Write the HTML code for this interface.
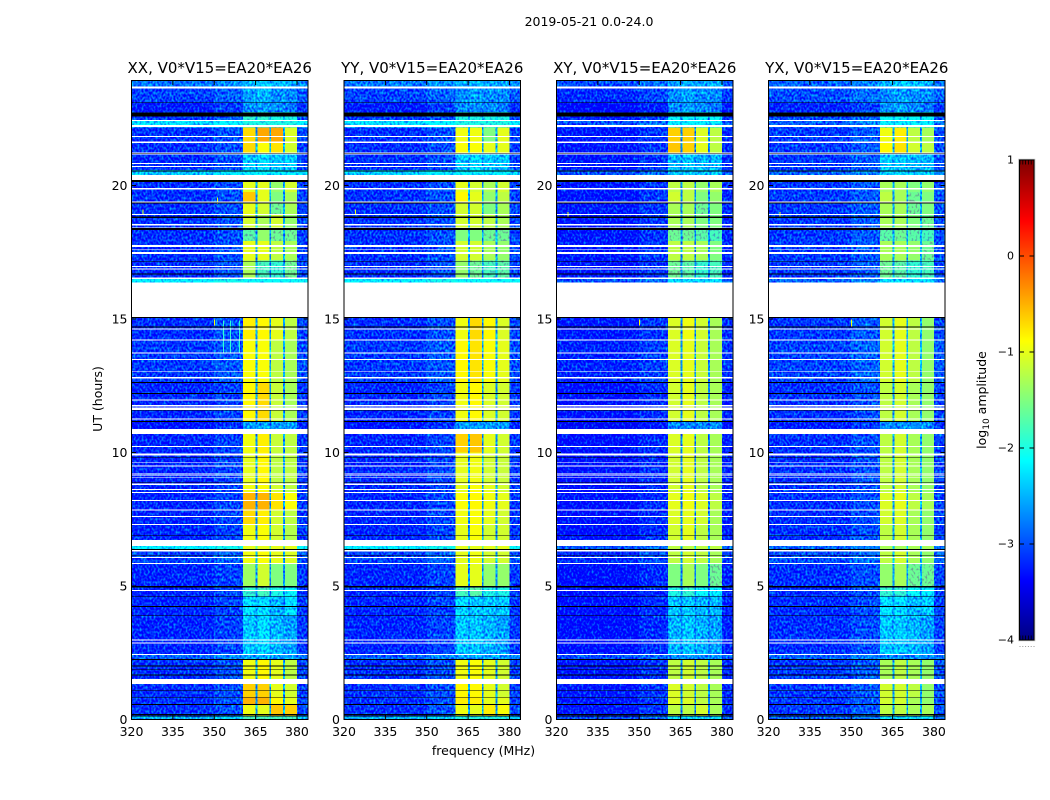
<!DOCTYPE html>
<html>
<head>
<meta charset="utf-8">
<title>2019-05-21 0.0-24.0</title>
<style>
html,body{margin:0;padding:0;background:#fff;width:1050px;height:800px;overflow:hidden}
svg{display:block}
text{font-family:"DejaVu Sans","Liberation Sans",sans-serif;fill:#000}
</style>
</head>
<body>
<svg id="chart" xmlns="http://www.w3.org/2000/svg" width="1050" height="800" viewBox="0 0 1050 800">
  <defs>
    <filter id="speckle" filterUnits="userSpaceOnUse" x="0" y="0" width="1050" height="800" color-interpolation-filters="sRGB">
      <feTurbulence type="fractalNoise" baseFrequency="0.5 0.38" numOctaves="1" seed="7" result="n"/>
      <feColorMatrix in="n" type="matrix" values="0 0 0 0 0.42  1.6 0 0 0 -0.38  0 0 0 0 0.42  0 0 0 0 1" result="nc"/>
      <feComposite in="SourceGraphic" in2="nc" operator="arithmetic" k1="0" k2="1" k3="1" k4="-0.42" result="mix"/>
      <feComposite in="mix" in2="SourceAlpha" operator="in"/>
    </filter>
  </defs>
  <text x="589" y="26" font-size="12.5" text-anchor="middle">2019-05-21 0.0-24.0</text>
  <text x="483.5" y="755" font-size="12.5" text-anchor="middle">frequency (MHz)</text>
  <text transform="translate(102 399) rotate(-90)" font-size="12.5" text-anchor="middle">UT (hours)</text>
  <text transform="translate(986 400) rotate(-90)" font-size="12.5" text-anchor="middle">log<tspan font-size="9" dy="3">10</tspan><tspan dy="-3"> amplitude</tspan></text>
  <g id="panels"></g>
  <g id="colorbar"></g>
</svg>
<script>
// ---- data (hours, MHz, log10 amplitude) ----
const panelTitles = ["XX, V0*V15=EA20*EA26","YY, V0*V15=EA20*EA26","XY, V0*V15=EA20*EA26","YX, V0*V15=EA20*EA26"];
const freqTicks = [320,335,350,365,380];
const hourTicks = [0,5,10,15,20];
const colorTicks = [1,0,-1,-2,-3,-4];
const blockStart = [0,0.12,0.54,0.82,1.33,1.52,2.23,2.42,3.88,4.6,5.0,5.82,6.39,6.73,7.28,7.85,8.48,8.85,10.0,10.88,11.14,12.64,14.2,15.04,16.36,16.49,17.2,17.92,18.33,18.9,19.34,19.76,20.2,20.4,20.58,21.18,21.62,22.18,22.42,22.75,23.1,23.65];
const blockEnd = 23.93;
const blockBg = [-2.5,-3.15,-3.15,-3.15,-3.15,-3.15,-2.9,-3.2,-3.2,-3.2,-3.2,-3.05,-2.2,-3.2,-3.2,-3.2,-3.2,-3.2,-3.2,-3.3,-3.2,-3.1,-3.15,-3.1,-2.2,-3.15,-3.15,-3.15,-3.15,-3.15,-3.15,-3.15,-3.1,-2.4,-3.15,-3.15,-3.15,-2.3,-3.1,-3.25,-3.05,-2.8];
const bandXX = [[-1.8,-1.8,-1.8,-1.8],[-0.95,-1,-0.6,-0.65],[-0.5,-0.5,-0.85,-1],[-0.65,-0.65,-1,-1.1],[-0.65,-0.65,-1,-1.1],[-0.95,-0.85,-1,-1.2],[-2.6,-2.6,-2.6,-2.6],[-2.4,-2.3,-2.5,-2.6],[-2.3,-2.3,-2.5,-2.3],[-1.9,-1.8,-2,-2.1],[-1.35,-1.1,-1.5,-1.5],[-0.95,-0.9,-1,-1.05],[-1,-1,-1,-1],[-0.95,-0.9,-1.1,-1.25],[-0.7,-0.8,-1.1,-1.2],[-0.5,-0.5,-0.75,-0.9],[-0.95,-0.9,-1.1,-1.2],[-1,-0.85,-1.2,-1.2],[-0.95,-0.8,-1.15,-1.2],[-2.6,-2.6,-2.6,-2.6],[-0.85,-0.7,-1.15,-1.3],[-0.9,-0.9,-1.2,-1.3],[-0.8,-0.85,-1,-1.2],[-2,-2,-2,-2],[-2.1,-2.1,-2.1,-2.1],[-1.3,-1.8,-1.9,-1.6],[-1,-1,-1.2,-1.3],[-1.7,-1.4,-1.6,-1.6],[-1.1,-1.3,-1.1,-1.4],[-1,-1.1,-1.6,-1.3],[-0.6,-1,-1.5,-1.3],[-1,-1,-1.4,-1.1],[-2,-2,-2,-2],[-2.2,-2.2,-2.2,-2.2],[-2.4,-2.3,-2.4,-2.4],[-0.7,-0.9,-0.75,-1.1],[-0.7,-0.45,-0.45,-1.05],[-2,-2,-2,-2],[-1.9,-1.9,-2,-2],[-2.7,-2.6,-2.7,-2.8],[-2.6,-2.5,-2.7,-2.7],[-2.5,-2.4,-2.5,-2.5]];
const bandYY = [[-2,-2,-2,-2],[-0.95,-1,-0.8,-0.9],[-0.8,-0.8,-1,-1],[-0.85,-0.85,-1,-1.1],[-0.85,-0.85,-1,-1.1],[-0.95,-0.9,-1,-1.1],[-2.6,-2.6,-2.6,-2.6],[-2.4,-2.4,-2.5,-2.6],[-2.3,-2.4,-2.4,-2.4],[-1.8,-1.7,-2,-2],[-1,-1,-1.4,-1.4],[-1,-0.95,-1.1,-1.1],[-1,-1,-1,-1],[-1,-0.9,-1.1,-1.1],[-0.95,-0.9,-1,-1.1],[-0.9,-0.85,-0.95,-1],[-1,-0.9,-1,-1.1],[-1,-0.95,-1.1,-1.15],[-0.65,-0.6,-1,-1.1],[-2.6,-2.6,-2.6,-2.6],[-0.95,-0.85,-1.05,-1.1],[-0.85,-0.75,-0.9,-1],[-0.95,-0.7,-0.85,-1.05],[-2,-2,-2,-2],[-2.1,-2.1,-2.1,-2.1],[-1.4,-1.6,-1.8,-1.7],[-1.1,-1.1,-1.3,-1.4],[-1.5,-1.5,-1.6,-1.6],[-1.1,-1.1,-1.2,-1.3],[-1.1,-1.1,-1.5,-1.3],[-0.85,-1,-1.4,-1.2],[-1,-1.1,-1.3,-1.1],[-2,-2,-2,-2],[-2.2,-2.2,-2.2,-2.2],[-2.4,-2.3,-2.4,-2.4],[-0.9,-0.9,-1,-1],[-0.95,-0.95,-1.5,-1],[-2,-2,-2,-2],[-2,-2,-2,-2],[-2.7,-2.7,-2.7,-2.8],[-2.7,-2.6,-2.7,-2.7],[-2.5,-2.5,-2.6,-2.6]];
const bandXY = [[-2.3,-2.3,-2.3,-2.3],[-1.2,-1.2,-1.1,-1.3],[-1.05,-1.05,-1.2,-1.3],[-1.05,-1.1,-1.2,-1.3],[-1.05,-1.1,-1.2,-1.3],[-1.2,-1.1,-1.2,-1.3],[-2.7,-2.7,-2.7,-2.7],[-2.5,-2.4,-2.5,-2.6],[-2.4,-2.4,-2.5,-2.5],[-2,-1.9,-2.1,-2.2],[-1.5,-1.3,-1.5,-1.6],[-1.2,-1.1,-1.2,-1.3],[-1.2,-1.2,-1.2,-1.2],[-1.1,-1,-1.2,-1.3],[-1.05,-1,-1.1,-1.3],[-1,-0.95,-1.05,-1.2],[-1.1,-1,-1.2,-1.3],[-1.1,-1,-1.2,-1.3],[-1.05,-1,-1.2,-1.3],[-2.7,-2.7,-2.7,-2.7],[-1.1,-1,-1.2,-1.3],[-1.05,-1,-1.15,-1.3],[-1.05,-0.95,-1.1,-1.3],[-2,-2,-2,-2],[-2.3,-2.3,-2.3,-2.3],[-1.6,-1.7,-1.9,-1.8],[-1.2,-1.2,-1.3,-1.5],[-1.6,-1.6,-1.7,-1.8],[-1.3,-1.3,-1.5,-1.5],[-1.3,-1.3,-1.6,-1.5],[-1.1,-1.2,-1.5,-1.4],[-1.2,-1.2,-1.4,-1.3],[-2,-2,-2,-2],[-2.4,-2.4,-2.4,-2.4],[-2.5,-2.4,-2.5,-2.5],[-0.6,-0.65,-1,-1.2],[-0.65,-0.65,-1.05,-1.2],[-2.2,-2.2,-2.2,-2.2],[-2.1,-2.1,-2.1,-2.1],[-2.7,-2.6,-2.7,-2.8],[-2.7,-2.6,-2.7,-2.7],[-2.6,-2.5,-2.6,-2.5]];
const bandYX = [[-2.3,-2.3,-2.3,-2.3],[-1.2,-1.2,-1.3,-1.3],[-1.1,-1.1,-1.3,-1.4],[-1.1,-1.1,-1.2,-1.4],[-1.1,-1.1,-1.2,-1.4],[-1.3,-1.2,-1.3,-1.4],[-2.7,-2.7,-2.7,-2.7],[-2.4,-2.4,-2.5,-2.6],[-2.3,-2.3,-2.5,-2.4],[-1.9,-1.9,-2.1,-2.2],[-1.4,-1.3,-1.6,-1.6],[-1.2,-1.1,-1.3,-1.4],[-1.3,-1.3,-1.3,-1.3],[-1.2,-1.1,-1.3,-1.4],[-1.1,-1.05,-1.3,-1.4],[-1.05,-1,-1.2,-1.3],[-1.2,-1.1,-1.3,-1.4],[-1.2,-1.1,-1.3,-1.4],[-1.2,-1.1,-1.3,-1.4],[-2.7,-2.7,-2.7,-2.7],[-1.2,-1.1,-1.3,-1.4],[-1.1,-1,-1.2,-1.4],[-1.1,-1,-1.2,-1.4],[-2,-2,-2,-2],[-2.3,-2.3,-2.3,-2.3],[-1.6,-1.7,-1.9,-1.8],[-1.3,-1.3,-1.4,-1.6],[-1.7,-1.6,-1.7,-1.8],[-1.3,-1.3,-1.5,-1.6],[-1.3,-1.3,-1.6,-1.5],[-1.2,-1.3,-1.6,-1.5],[-1.3,-1.3,-1.5,-1.4],[-2,-2,-2,-2],[-2.4,-2.4,-2.4,-2.4],[-2.4,-2.4,-2.5,-2.5],[-0.85,-0.75,-1.1,-1.2],[-0.95,-0.8,-1.2,-1.3],[-2.2,-2.2,-2.2,-2.2],[-2.1,-2.1,-2.1,-2.1],[-2.7,-2.6,-2.7,-2.8],[-2.7,-2.6,-2.7,-2.7],[-2.5,-2.4,-2.5,-2.5]];
const panelBands = [bandXX,bandYY,bandXY,bandYX];
const panelBgOffset = [0,0,-0.12,0.05];
const panelBgCap = [-1,-1,-3.0,-2.9];
// frequency columns: low background, rising edge, band1, gap, band2, gap, band3, gap, band4, high edge
const columnEdges = [320,350,360.4,365,365.6,370,370.6,375,375.6,380,384];
const columnRole = ["bg","edge","b0","gap","b1","gap","b2","gap","b3","bg2"];
const whiteFlags = [[1.33,1.52],[2.42,2.46],[2.85,2.89],[2.95,3.0],[4.81,4.85],[5.82,5.86],[6.05,6.09],[6.30,6.34],[6.5,6.72],[7.28,7.32],[7.58,7.62],[7.83,7.87],[8.18,8.22],[8.48,8.52],[8.6,8.63],[8.79,8.83],[9.06,9.09],[9.13,9.17],[9.21,9.24],[9.48,9.52],[9.6,9.63],[9.88,9.96],[10.21,10.24],[10.69,10.88],[11.24,11.28],[11.59,11.69],[11.73,11.77],[11.94,11.98],[12.78,12.82],[13.03,13.06],[13.46,13.5],[13.7,13.74],[14.2,14.24],[14.61,14.65],[15.03,16.36],[16.49,16.56],[16.86,16.9],[16.94,16.99],[17.43,17.51],[17.58,17.61],[17.69,17.78],[18.4,18.43],[18.51,18.56],[18.89,18.93],[19.37,19.41],[19.85,19.9],[20.2,20.4],[20.69,20.73],[20.8,20.85],[21.17,21.24],[21.6,21.64],[21.82,21.85],[22.2,22.27],[22.42,22.45],[23.63,23.7]];
const blackFlags = [[0.12,0.15],[0.17,0.21],[0.54,0.58],[0.82,0.85],[1.07,1.09],[1.64,1.69],[1.87,1.9],[1.99,2.03],[2.23,2.27],[3.88,3.9],[4.22,4.26],[4.6,4.63],[4.95,5.0],[6.15,6.17],[6.35,6.39],[6.87,6.9],[8.85,8.88],[9.82,9.84],[11.14,11.18],[11.55,11.58],[12.2,12.23],[12.61,12.64],[14.69,14.71],[15.03,15.07],[16.66,16.71],[17.15,17.18],[18.33,18.4],[18.79,18.83],[19.33,19.37],[20.13,20.2],[20.53,20.56],[21.18,21.2],[22.58,22.74],[23.09,23.11]];
// isolated interference: panel index, MHz, hour from, hour to, log10 amplitude
const spikes = [[0,353.2,13.7,14.95,-1.9],[0,355.8,13.7,14.95,-1.9],[0,359,13.7,14.95,-1.9],[0,350,14.75,14.98,-0.9],[2,350,14.75,14.98,-0.9],[3,350,14.7,14.98,-0.9],[0,351,19.3,19.55,-1],[0,324,18.9,19.1,-1],[1,324,18.9,19.1,-1],[2,324,18.8,19,-1],[3,324,18.8,19,-1]];

// ---- axis functions ----
const panelLefts = [131.5,344,556.5,768.5];
const panelWidth = 176.5;
function xScale(p,mhz){return panelLefts[p]+(mhz-320)/(384-320)*panelWidth;}
function yScale(h){return 719.5-h*26.7;}
function cbScale(v){return 640-(v+4)/5*480;}
function jet(v){
  const x=Math.min(1,Math.max(0,(v+4)/5));
  const c=t=>Math.round(255*Math.min(1,Math.max(0,1.5-Math.abs(4*x-t))));
  return "rgb("+c(3)+","+c(2)+","+c(1)+")";
}
const NS="http://www.w3.org/2000/svg";
function mk(tag,parent,attrs){
  const e=document.createElementNS(NS,tag);
  for(const k in attrs)e.setAttribute(k,attrs[k]);
  parent.appendChild(e);
  return e;
}
const root=document.getElementById("panels");
panelTitles.forEach((title,p)=>{
  const g=mk("g",root,{});
  
  
  const heat=mk("g",g,{filter:"url(#speckle)","shape-rendering":"crispEdges"});
  
  
  const solid=mk("g",g,{"shape-rendering":"crispEdges"});
  
  
  const band=panelBands[p];
  blockStart.forEach((h0,b)=>{
    const h1=b+1<blockStart.length?blockStart[b+1]:blockEnd;
    const bg=Math.min(blockBg[b]+panelBgOffset[p],panelBgCap[p]);
    columnRole.forEach((role,c)=>{
      let v=bg;
      if(role==="edge")v=bg+0.15;
      else if(role==="bg2")v=bg+0.1;
      else if(role==="gap")v=Math.max(bg,Math.min(bg+0.55,band[b][0]));
      else if(role[0]==="b"&&role!=="bg")v=band[b][+role[1]];
      const x0=xScale(p,columnEdges[c]),x1=xScale(p,columnEdges[c+1]);
      const cell=mk("rect",v>-1.6?solid:heat,{x:x0,y:yScale(h1),width:x1-x0,height:yScale(h0)-yScale(h1),fill:jet(v)});
      
      
    });
  });
  spikes.filter(s=>s[0]===p).forEach(s=>{
    const sp=mk("rect",g,{x:xScale(p,s[1]),y:yScale(s[3]),width:1,height:yScale(s[2])-yScale(s[3]),fill:jet(s[4]),"shape-rendering":"crispEdges"});
    
    
  });
  whiteFlags.forEach(f=>{
    const r=mk("rect",g,{x:xScale(p,320),y:yScale(f[1]),width:panelWidth,height:yScale(f[0])-yScale(f[1]),fill:"#fff","shape-rendering":"crispEdges"});
    
    
  });
  blackFlags.forEach(f=>{
    const r=mk("rect",g,{x:xScale(p,320),y:yScale(f[1]),width:panelWidth,height:yScale(f[0])-yScale(f[1]),fill:"#000","shape-rendering":"crispEdges"});
    
    
  });
  const frame=mk("rect",g,{x:xScale(p,320),y:80.5,width:panelWidth,height:639,fill:"none",stroke:"#000","stroke-width":1,"shape-rendering":"crispEdges"});
  
  
  freqTicks.forEach(f=>{
    const x=xScale(p,f);
    const t1=mk("line",g,{x1:x,x2:x,y1:719.5,y2:715,stroke:"#000","stroke-width":1});
    
    
    const t2=mk("line",g,{x1:x,x2:x,y1:80.5,y2:85,stroke:"#000","stroke-width":1});
    
    
    const lab=mk("text",g,{x:x,y:736,"font-size":12.5,"text-anchor":"middle"});
    lab.textContent=String(f);
    
    
  });
  hourTicks.forEach(h=>{
    const y=yScale(h);
    const l=xScale(p,320),r=l+panelWidth;
    const t1=mk("line",g,{x1:l,x2:l+4.5,y1:y,y2:y,stroke:"#000","stroke-width":1});
    
    
    const t2=mk("line",g,{x1:r,x2:r-4.5,y1:y,y2:y,stroke:"#000","stroke-width":1});
    
    
    const lab=mk("text",g,{x:l-4,y:y+4.5,"font-size":12.5,"text-anchor":"end"});
    lab.textContent=String(h);
    
    
  });
  const tt=mk("text",g,{x:xScale(p,320)+panelWidth/2,y:73,"font-size":15,"text-anchor":"middle"});
  tt.textContent=title;
  
  
});

// ---- colorbar ----
const cb=document.getElementById("colorbar");
const cbL=1019.5,cbW=14.5;
for(let i=0;i<240;i++){
  const v0=-4+i*5/240,v1=-4+(i+1)*5/240;
  const s=mk("rect",cb,{x:cbL,y:cbScale(v1),width:cbW,height:cbScale(v0)-cbScale(v1)+0.5,fill:jet(v0+2.5/240),"shape-rendering":"crispEdges"});
  
  
}
const outer=mk("rect",cb,{x:cbL-0.8,y:159.3,width:cbW+1.6,height:481.4,fill:"none",stroke:"#bbb","stroke-width":1});


const inner=mk("rect",cb,{x:cbL,y:160,width:cbW,height:480,fill:"none",stroke:"#000","stroke-width":1,"shape-rendering":"crispEdges"});


colorTicks.forEach(v=>{
  const y=cbScale(v);
  const a=mk("line",cb,{x1:cbL,x2:cbL+4.5,y1:y,y2:y,stroke:"#000"});
  
  
  const b=mk("line",cb,{x1:cbL+cbW,x2:cbL+cbW-4.5,y1:y,y2:y,stroke:"#000"});
  
  
  const lab=mk("text",cb,{x:1014,y:y+3.5,"font-size":11,"text-anchor":"end"});
  lab.textContent=v<0?"\u2212"+Math.abs(v):String(v);
  
  
});
for(let i=0;i<=5;i++){
  const x=cbL+0.5+i*2.8;
  const top=mk("line",cb,{x1:x,x2:x,y1:160,y2:164.5,stroke:"#000","stroke-width":0.8});
  
  
  const bot=mk("line",cb,{x1:x,x2:x,y1:640,y2:635.5,stroke:"#000","stroke-width":0.8});
  
  
  const dot=mk("rect",cb,{x:x-0.5,y:646,width:1,height:1,fill:"#999"});
  
  
}
</script>
</body>
</html>
